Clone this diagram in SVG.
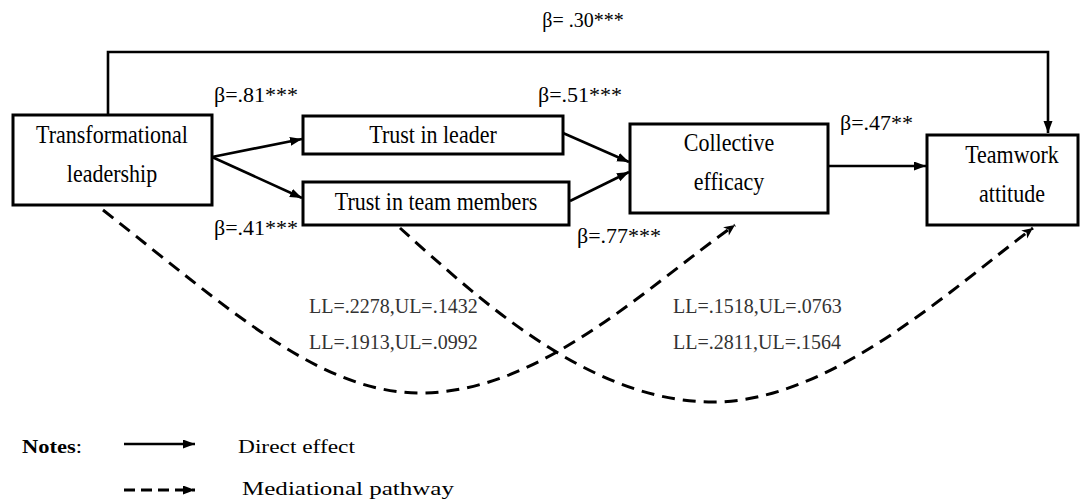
<svg xmlns="http://www.w3.org/2000/svg" width="1086" height="499" viewBox="0 0 1086 499" font-family="'Liberation Serif', 'Times New Roman', 'DejaVu Serif', serif">
<style>
text{font-family:'Liberation Serif','Times New Roman','DejaVu Serif',serif;fill:#000}
.lbl{font-size:22px;text-anchor:middle}
.b{font-size:22px}
.ci{font-size:20px;fill:#333}
.lg{font-size:19px}
.box{fill:#fff;stroke:#000;stroke-width:3}
.s{fill:none;stroke:#000;stroke-width:2.6}
.d{fill:none;stroke:#000;stroke-width:3;stroke-dasharray:13 8}
</style>
<defs>
<marker id="ah" markerUnits="userSpaceOnUse" markerWidth="13" markerHeight="10" refX="12" refY="4.5" orient="auto">
<path d="M0,0 L12,4.5 L0,9 z" fill="#000"/>
</marker>
<marker id="dh" markerUnits="userSpaceOnUse" markerWidth="14" markerHeight="12" refX="12" refY="5" orient="auto">
<path d="M1,0 L12,5 L1,10 L4,5 z" fill="#000"/>
</marker>
</defs>
<g id="connectors">
<path class="s" d="M108,115 V52 H1048 V133" marker-end="url(#ah)"/>
<path class="s" d="M212,157 L302,139" marker-end="url(#ah)"/>
<path class="s" d="M212,157 L302,198" marker-end="url(#ah)"/>
<path class="s" d="M563,133 L629,162" marker-end="url(#ah)"/>
<path class="s" d="M570,201 L629,172" marker-end="url(#ah)"/>
<path class="s" d="M828,166 L926,166" marker-end="url(#ah)"/>
<path class="d" d="M103,210 C230,310 320,393 420,393 C540,393 645,288 735,225" marker-end="url(#dh)"/>
<path class="d" d="M400,228 C480,300 590,402 713,402 C830,402 950,290 1033,228" marker-end="url(#dh)"/>
</g>
<g id="transformational-leadership">
<rect class="box" x="13" y="115" width="199" height="90"/>
<text class="lbl" transform="matrix(1 0 0 1.15 112 143)">Transformational</text>
<text class="lbl" transform="matrix(1 0 0 1.15 112 182)">leadership</text>
</g>
<g id="trust-in-leader">
<rect class="box" x="303" y="116" width="260" height="38"/>
<text class="lbl" transform="matrix(1 0 0 1.15 433 143)">Trust in leader</text>
</g>
<g id="trust-in-team-members">
<rect class="box" x="303" y="182" width="266" height="43"/>
<text class="lbl" transform="matrix(1 0 0 1.15 436 210)">Trust in team members</text>
</g>
<g id="collective-efficacy">
<rect class="box" x="630" y="124" width="198" height="89"/>
<text class="lbl" transform="matrix(1 0 0 1.15 729 151)">Collective</text>
<text class="lbl" transform="matrix(1 0 0 1.15 729 190)">efficacy</text>
</g>
<g id="teamwork-attitude">
<rect class="box" x="927" y="135" width="151" height="90"/>
<text class="lbl" transform="matrix(1 0 0 1.15 1012 163)">Teamwork</text>
<text class="lbl" transform="matrix(1 0 0 1.15 1012 202)">attitude</text>
</g>
<g id="labels">
<text class="lbl" style="font-size:20px" x="583" y="27">β= .30***</text>
<text class="b" x="214" y="102">β=.81***</text>
<text class="b" x="538" y="102">β=.51***</text>
<text class="b" x="840" y="130">β=.47**</text>
<text class="b" x="214" y="235">β=.41***</text>
<text class="b" x="577" y="243">β=.77***</text>
<text class="ci" x="309" y="313">LL=.2278,UL=.1432</text>
<text class="ci" x="309" y="349">LL=.1913,UL=.0992</text>
<text class="ci" x="673" y="313">LL=.1518,UL=.0763</text>
<text class="ci" x="673" y="349">LL=.2811,UL=.1564</text>
</g>
<g id="legend">
<text class="lg" x="22" y="453" textLength="60" lengthAdjust="spacingAndGlyphs"><tspan font-weight="bold">Notes</tspan>:</text>
<path class="s" d="M124,444 L195,444" marker-end="url(#ah)"/>
<text class="lg" x="238" y="453" textLength="117" lengthAdjust="spacingAndGlyphs">Direct effect</text>
<path style="fill:none;stroke:#000;stroke-width:3;stroke-dasharray:11 6" d="M124,490 L195,490" marker-end="url(#ah)"/>
<text class="lg" x="242" y="495" textLength="212" lengthAdjust="spacingAndGlyphs">Mediational pathway</text>
</g>
</svg>
